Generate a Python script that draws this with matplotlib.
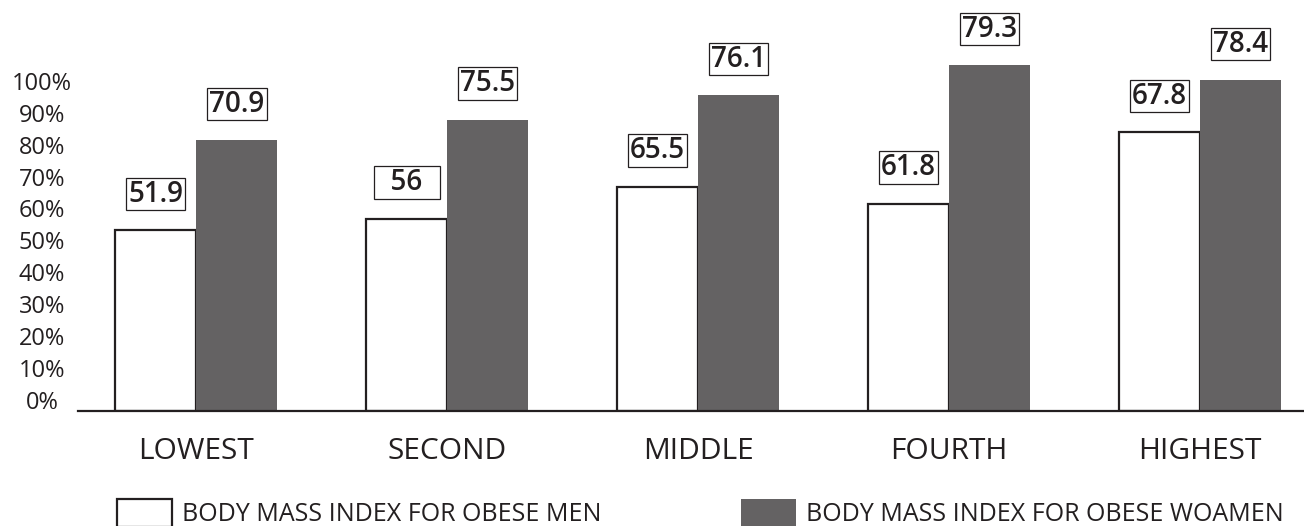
import numpy as np
import matplotlib.pyplot as plt

groups = ['LOWEST', 'SECOND', 'MIDDLE', 'FOURTH', 'HIGHEST']
men_labels = ['51.9', '56', '65.5', '61.8', '67.8']
women_labels = ['70.9', '75.5', '76.1', '79.3', '78.4']
men_heights = [53.2, 56.7, 66.7, 61.4, 83.9]
women_heights = [81.4, 87.7, 95.5, 104.9, 100.2]
y_ticks = list(range(0, 101, 10))

plt.rcParams['font.family'] = ['Open Sans', 'DejaVu Sans']
INK = '#231f20'
GRAY = '#646263'

W, H = 1304, 526
fig = plt.figure(figsize=(W / 100, H / 100), dpi=100)
ax = fig.add_axes([78 / W, 115.5 / H, 1 - 78 / W, 1 - 115.5 / H])

base = -3.3
x = np.arange(len(groups))
w = 0.323

ax.bar(x - w / 2, np.array(men_heights) - base, w, bottom=base, color='white',
       edgecolor=INK, linewidth=1.6, label='BODY MASS INDEX FOR OBESE MEN', zorder=2)
ax.bar(x + w / 2, np.array(women_heights) - base, w, bottom=base, color=GRAY,
       linewidth=0, label='BODY MASS INDEX FOR OBESE WOAMEN', zorder=2)

# etiquetas en cajas (las cortas se rellenan con espacios de cifra para igualar el ancho)
def put_label(xi, h, txt):
    txt = txt.center(4, '\u2007')
    ax.annotate(txt, (xi, h), xytext=(0, 26), textcoords='offset points',
                ha='center', va='center', fontsize=20, color=INK, fontweight='semibold',
                bbox=dict(boxstyle='square,pad=0.07', fc='white', ec=INK, lw=0.9))

for i in range(len(groups)):
    put_label(x[i] - w / 2, men_heights[i], men_labels[i])
    put_label(x[i] + w / 2, women_heights[i], women_labels[i])

ax.set_xlim(-0.472, 4.414)
ax.set_ylim(base, 125.3)
ax.set_xticks(x)
ax.set_xticklabels(groups, fontsize=21.5, color=INK)
ax.set_yticks(y_ticks)
ax.set_yticklabels([f'{v}%' for v in y_ticks], fontsize=17, color=INK)
for lab in ax.get_yticklabels():
    lab.set_ha('center')
ax.tick_params(axis='y', length=0, pad=26)
ax.tick_params(axis='x', length=0, pad=19)

for s in ['left', 'right', 'top']:
    ax.spines[s].set_visible(False)
ax.spines['bottom'].set_color(INK)
ax.spines['bottom'].set_linewidth(1.6)
ax.spines['bottom'].set_zorder(3)

fig.legend(loc='center left', bbox_to_anchor=(117 / W, 13 / H), ncol=2, frameon=False,
           fontsize=18, handlelength=2.2, handleheight=1.35, handletextpad=0.4,
           columnspacing=5.6, borderpad=0, borderaxespad=0, labelcolor=INK)

plt.savefig('out.png', dpi=100)
